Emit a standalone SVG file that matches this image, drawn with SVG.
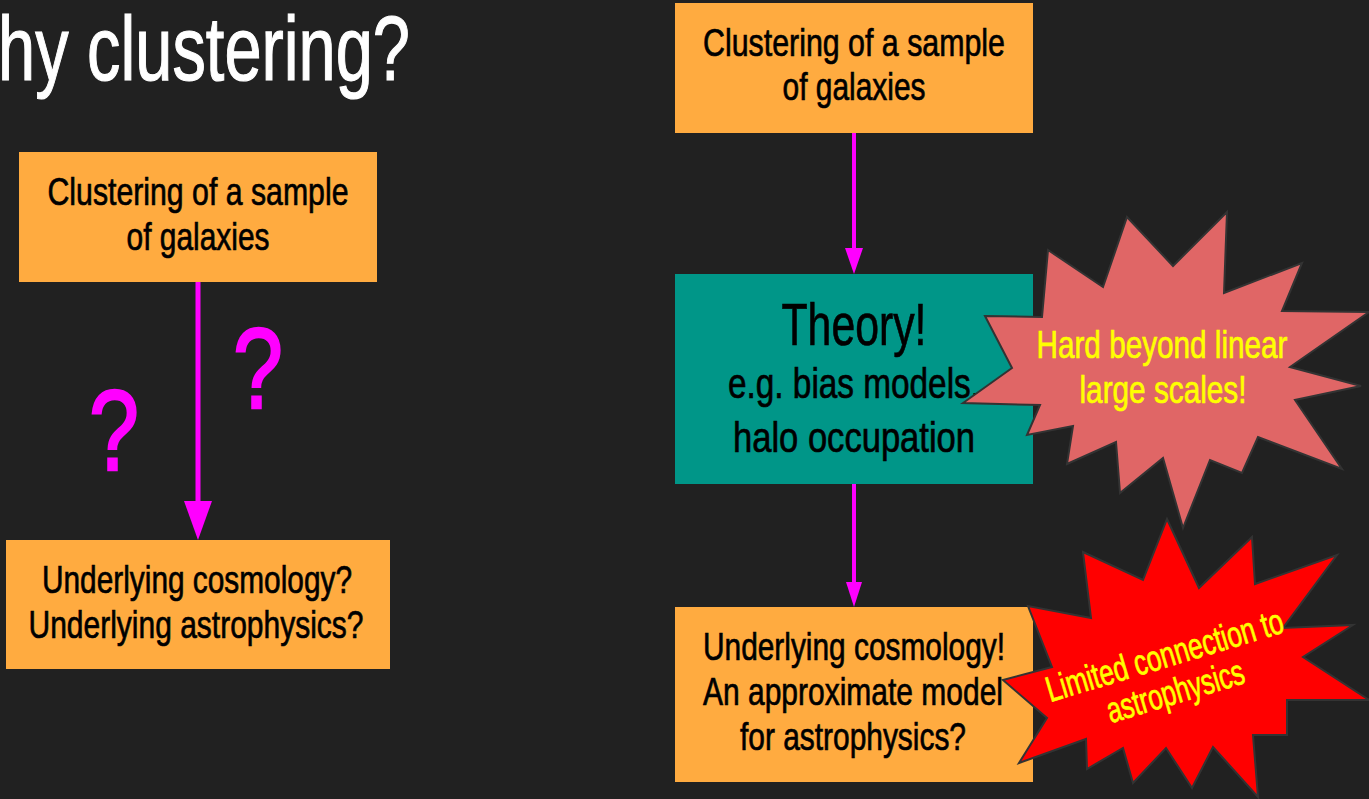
<svg xmlns="http://www.w3.org/2000/svg" width="1369" height="799" viewBox="0 0 1369 799">
<defs>
<style>
.t{font-family:"Liberation Sans",Arial,sans-serif;fill:#000;stroke:#000;stroke-width:0.7;text-anchor:middle}
.box{fill:#FFAB40}
.teal{fill:#009688}
.star{stroke:#333333;stroke-width:2;stroke-linejoin:miter}
.line{stroke:#FF00FF;fill:none}
.head{fill:#FF00FF}
.y{fill:#FFFF00;stroke:#FFFF00}
.q{font-family:"Liberation Sans",Arial,sans-serif;font-size:115px;fill:#FF00FF;stroke:#FF00FF;stroke-width:2.5;text-anchor:middle}
</style>
</defs>
<rect width="1369" height="799" fill="#212121"/>
<text id="title" x="-2" y="80" font-family="'Liberation Sans',Arial,sans-serif" font-size="91" fill="#FFFFFF" stroke="#FFFFFF" stroke-width="1.2" textLength="412" lengthAdjust="spacingAndGlyphs">hy clustering?</text>

<g id="left-top">
<rect class="box" x="19" y="152" width="358" height="130"/>
<text class="t" x="198" y="205" font-size="39" textLength="301" lengthAdjust="spacingAndGlyphs">Clustering of a sample</text>
<text class="t" x="198" y="250" font-size="39" textLength="143" lengthAdjust="spacingAndGlyphs">of galaxies</text>
</g>
<g id="left-bottom">
<rect class="box" x="6" y="540" width="384" height="129"/>
<text class="t" x="197" y="593" font-size="39" textLength="310" lengthAdjust="spacingAndGlyphs">Underlying cosmology?</text>
<text class="t" x="196" y="638" font-size="39" textLength="335" lengthAdjust="spacingAndGlyphs">Underlying astrophysics?</text>
</g>
<g id="qmarks">
<text class="q" x="114" y="470" textLength="50" lengthAdjust="spacingAndGlyphs">?</text>
<text class="q" x="258" y="408" textLength="50" lengthAdjust="spacingAndGlyphs">?</text>
</g>

<g id="right-top">
<rect class="box" x="675" y="3" width="358" height="130"/>
<text class="t" x="854" y="56" font-size="39" textLength="302" lengthAdjust="spacingAndGlyphs">Clustering of a sample</text>
<text class="t" x="854" y="100" font-size="39" textLength="143" lengthAdjust="spacingAndGlyphs">of galaxies</text>
</g>
<g id="theory">
<rect class="teal" x="675" y="274" width="358" height="210"/>
<text class="t" x="854" y="345" font-size="60" textLength="145" lengthAdjust="spacingAndGlyphs">Theory!</text>
<text class="t" x="854" y="398" font-size="43" textLength="252" lengthAdjust="spacingAndGlyphs">e.g. bias models,</text>
<text class="t" x="854" y="452" font-size="43" textLength="242" lengthAdjust="spacingAndGlyphs">halo occupation</text>
</g>
<g id="right-bottom">
<rect class="box" x="675" y="607" width="358" height="175"/>
<text class="t" x="854" y="660" font-size="39" textLength="302" lengthAdjust="spacingAndGlyphs">Underlying cosmology!</text>
<text class="t" x="853" y="705" font-size="39" textLength="300" lengthAdjust="spacingAndGlyphs">An approximate model</text>
<text class="t" x="853" y="750" font-size="39" textLength="226" lengthAdjust="spacingAndGlyphs">for astrophysics?</text>
</g>

<g id="connectors">
<line class="line" x1="198" y1="282" x2="198" y2="503" stroke-width="5"/>
<polygon class="head" points="184,501 212,501 198,540"/>
<line class="line" x1="854" y1="133" x2="854" y2="250" stroke-width="4"/>
<polygon class="head" points="845,248 863,248 854,274"/>
<line class="line" x1="854" y1="484" x2="854" y2="584" stroke-width="4"/>
<polygon class="head" points="846,582 862,582 854,607"/>
</g>

<g id="star-hard">
<polygon class="star" fill="#E06666" points="985,316 1042,317 1048,250 1103,287 1127,217 1173,266 1227,212 1224,293 1302,263 1282,311 1369,312 1290,367 1361,386 1295,400 1342,469 1258,437 1242,473 1210,460 1183,528 1163,458 1120,493 1116,442 1067,464 1073,426 1027,435 1040,405 963,403 1012,368"/>
<text class="t y" x="1162" y="358" font-size="39" textLength="251" lengthAdjust="spacingAndGlyphs">Hard beyond linear</text>
<text class="t y" x="1163" y="403" font-size="39" textLength="167" lengthAdjust="spacingAndGlyphs">large scales!</text>
</g>
<g id="star-limited">
<polygon class="star" fill="#FF0000" points="1167,519 1199,588 1252,537 1255,584 1337,555 1283,628 1353,625 1303,657 1369,700 1287,700 1287,735 1253,735 1258,797 1213,747 1192,788 1166,748 1133,783 1123,748 1087,769 1086,739 1019,763 1047,718 1003,680 1052,667 1028,606 1091,618 1083,552 1143,580"/>
<g transform="translate(1168,667) rotate(-16.6)">
<text class="t y" x="0" y="0" font-size="36" textLength="246" lengthAdjust="spacingAndGlyphs">Limited connection to</text>
<text class="t y" x="0" y="37.5" font-size="36" textLength="142" lengthAdjust="spacingAndGlyphs">astrophysics</text>
</g>
</g>
</svg>
